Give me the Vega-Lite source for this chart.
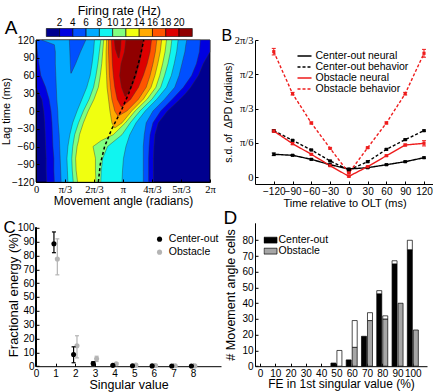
{
  "$schema": "https://vega.github.io/schema/vega-lite/v6.json",
  "background": "white",
  "padding": {"left": 0, "top": 5, "right": 0, "bottom": 0},
  "bounds": "flush",
  "columns": 2,
  "spacing": {"row": 38.8, "column": 34},
  "resolve": {
    "scale": {"color": "independent", "fill": "independent", "stroke": "independent", "strokeDash": "independent"},
    "legend": {"color": "independent", "fill": "independent", "stroke": "independent", "strokeDash": "independent"}
  },
  "datasets": {
    "contours": [
      {"poly": "b0", "level": 0, "lag": -120, "left": 0, "right": 360},
      {"poly": "b0", "level": 0, "lag": 120, "left": 0, "right": 360},

      {"poly": "b1", "level": 2, "lag": -120, "left": 22, "right": 243},
      {"poly": "b1", "level": 2, "lag": -100, "left": 21, "right": 243},
      {"poly": "b1", "level": 2, "lag": -80, "left": 21, "right": 243},
      {"poly": "b1", "level": 2, "lag": -60, "left": 20, "right": 244},
      {"poly": "b1", "level": 2, "lag": -40, "left": 19, "right": 246},
      {"poly": "b1", "level": 2, "lag": -20, "left": 18, "right": 253},
      {"poly": "b1", "level": 2, "lag": 0, "left": 16, "right": 272},
      {"poly": "b1", "level": 2, "lag": 20, "left": 12, "right": 298},
      {"poly": "b1", "level": 2, "lag": 30, "left": 6, "right": 310},
      {"poly": "b1", "level": 2, "lag": 40, "left": 0, "right": 320},
      {"poly": "b1", "level": 2, "lag": 60, "left": 0, "right": 336},
      {"poly": "b1", "level": 2, "lag": 80, "left": 0, "right": 346},
      {"poly": "b1", "level": 2, "lag": 100, "left": 0, "right": 360},
      {"poly": "b1", "level": 2, "lag": 120, "left": 0, "right": 360},

      {"poly": "b2", "level": 4, "lag": -120, "left": 38, "right": 233},
      {"poly": "b2", "level": 4, "lag": -100, "left": 37, "right": 233},
      {"poly": "b2", "level": 4, "lag": -80, "left": 37, "right": 233},
      {"poly": "b2", "level": 4, "lag": -60, "left": 35, "right": 234},
      {"poly": "b2", "level": 4, "lag": -40, "left": 34, "right": 236},
      {"poly": "b2", "level": 4, "lag": -20, "left": 33, "right": 242},
      {"poly": "b2", "level": 4, "lag": 0, "left": 31, "right": 258},
      {"poly": "b2", "level": 4, "lag": 20, "left": 27, "right": 282},
      {"poly": "b2", "level": 4, "lag": 40, "left": 20, "right": 305},
      {"poly": "b2", "level": 4, "lag": 60, "left": 10, "right": 322},
      {"poly": "b2", "level": 4, "lag": 80, "left": 6, "right": 332},
      {"poly": "b2", "level": 4, "lag": 100, "left": 3, "right": 338},
      {"poly": "b2", "level": 4, "lag": 120, "left": 0, "right": 340},

      {"poly": "b3", "level": 6, "lag": -120, "left": 52, "right": 222},
      {"poly": "b3", "level": 6, "lag": -100, "left": 51, "right": 222},
      {"poly": "b3", "level": 6, "lag": -80, "left": 50, "right": 222},
      {"poly": "b3", "level": 6, "lag": -60, "left": 49, "right": 222},
      {"poly": "b3", "level": 6, "lag": -40, "left": 48, "right": 224},
      {"poly": "b3", "level": 6, "lag": -20, "left": 46, "right": 228},
      {"poly": "b3", "level": 6, "lag": 0, "left": 45, "right": 242},
      {"poly": "b3", "level": 6, "lag": 20, "left": 43, "right": 266},
      {"poly": "b3", "level": 6, "lag": 40, "left": 42, "right": 287},
      {"poly": "b3", "level": 6, "lag": 60, "left": 41, "right": 296},
      {"poly": "b3", "level": 6, "lag": 80, "left": 40, "right": 302},
      {"poly": "b3", "level": 6, "lag": 100, "left": 40, "right": 308},
      {"poly": "b3", "level": 6, "lag": 112, "left": 38, "right": 310},
      {"poly": "b3", "level": 6, "lag": 120, "left": 12, "right": 312},

      {"poly": "notch", "level": 4, "lag": 64, "left": 72, "right": 73},
      {"poly": "notch", "level": 4, "lag": 80, "left": 71, "right": 82},
      {"poly": "notch", "level": 4, "lag": 100, "left": 70, "right": 92},
      {"poly": "notch", "level": 4, "lag": 120, "left": 69, "right": 103},

      {"poly": "b4", "level": 8, "lag": -120, "left": 66, "right": 178},
      {"poly": "b4", "level": 8, "lag": -100, "left": 65, "right": 179},
      {"poly": "b4", "level": 8, "lag": -80, "left": 64, "right": 181},
      {"poly": "b4", "level": 8, "lag": -60, "left": 66, "right": 186},
      {"poly": "b4", "level": 8, "lag": -40, "left": 70, "right": 194},
      {"poly": "b4", "level": 8, "lag": -20, "left": 76, "right": 207},
      {"poly": "b4", "level": 8, "lag": 0, "left": 85, "right": 226},
      {"poly": "b4", "level": 8, "lag": 20, "left": 95, "right": 250},
      {"poly": "b4", "level": 8, "lag": 40, "left": 105, "right": 270},
      {"poly": "b4", "level": 8, "lag": 60, "left": 112, "right": 280},
      {"poly": "b4", "level": 8, "lag": 80, "left": 116, "right": 286},
      {"poly": "b4", "level": 8, "lag": 100, "left": 119, "right": 291},
      {"poly": "b4", "level": 8, "lag": 120, "left": 121, "right": 294},

      {"poly": "b5", "level": 10, "lag": -120, "left": 77, "right": 134},
      {"poly": "b5", "level": 10, "lag": -100, "left": 75, "right": 135},
      {"poly": "b5", "level": 10, "lag": -80, "left": 74, "right": 138},
      {"poly": "b5", "level": 10, "lag": -60, "left": 76, "right": 148},
      {"poly": "b5", "level": 10, "lag": -40, "left": 80, "right": 178},
      {"poly": "b5", "level": 10, "lag": -20, "left": 88, "right": 195},
      {"poly": "b5", "level": 10, "lag": 0, "left": 98, "right": 215},
      {"poly": "b5", "level": 10, "lag": 20, "left": 110, "right": 240},
      {"poly": "b5", "level": 10, "lag": 40, "left": 119, "right": 258},
      {"poly": "b5", "level": 10, "lag": 60, "left": 124, "right": 266},
      {"poly": "b5", "level": 10, "lag": 80, "left": 128, "right": 273},
      {"poly": "b5", "level": 10, "lag": 100, "left": 131, "right": 278},
      {"poly": "b5", "level": 10, "lag": 120, "left": 134, "right": 281},

      {"poly": "b6", "level": 12, "lag": -120, "left": 86, "right": 124},
      {"poly": "b6", "level": 12, "lag": -100, "left": 83, "right": 123},
      {"poly": "b6", "level": 12, "lag": -80, "left": 82, "right": 123},
      {"poly": "b6", "level": 12, "lag": -60, "left": 85, "right": 118},
      {"poly": "b6", "level": 12, "lag": -50, "left": 88, "right": 135},
      {"poly": "b6", "level": 12, "lag": -40, "left": 90, "right": 160},
      {"poly": "b6", "level": 12, "lag": -20, "left": 98, "right": 185},
      {"poly": "b6", "level": 12, "lag": 0, "left": 108, "right": 205},
      {"poly": "b6", "level": 12, "lag": 20, "left": 120, "right": 230},
      {"poly": "b6", "level": 12, "lag": 40, "left": 129, "right": 248},
      {"poly": "b6", "level": 12, "lag": 60, "left": 133, "right": 256},
      {"poly": "b6", "level": 12, "lag": 80, "left": 136, "right": 262},
      {"poly": "b6", "level": 12, "lag": 100, "left": 138, "right": 267},
      {"poly": "b6", "level": 12, "lag": 120, "left": 140, "right": 270},

      {"poly": "b7", "level": 14, "lag": -28, "left": 162, "right": 164},
      {"poly": "b7", "level": 14, "lag": -20, "left": 157, "right": 178},
      {"poly": "b7", "level": 14, "lag": 0, "left": 153, "right": 198},
      {"poly": "b7", "level": 14, "lag": 20, "left": 150, "right": 222},
      {"poly": "b7", "level": 14, "lag": 40, "left": 147, "right": 238},
      {"poly": "b7", "level": 14, "lag": 60, "left": 146, "right": 246},
      {"poly": "b7", "level": 14, "lag": 80, "left": 145, "right": 252},
      {"poly": "b7", "level": 14, "lag": 100, "left": 145, "right": 257},
      {"poly": "b7", "level": 14, "lag": 120, "left": 146, "right": 260},

      {"poly": "b8", "level": 16, "lag": -8, "left": 169, "right": 171},
      {"poly": "b8", "level": 16, "lag": 0, "left": 163, "right": 188},
      {"poly": "b8", "level": 16, "lag": 20, "left": 157, "right": 212},
      {"poly": "b8", "level": 16, "lag": 40, "left": 154, "right": 228},
      {"poly": "b8", "level": 16, "lag": 60, "left": 152, "right": 236},
      {"poly": "b8", "level": 16, "lag": 80, "left": 151, "right": 242},
      {"poly": "b8", "level": 16, "lag": 100, "left": 150, "right": 247},
      {"poly": "b8", "level": 16, "lag": 120, "left": 150, "right": 250},

      {"poly": "b9", "level": 18, "lag": 7, "left": 176, "right": 178},
      {"poly": "b9", "level": 18, "lag": 20, "left": 168, "right": 196},
      {"poly": "b9", "level": 18, "lag": 40, "left": 163, "right": 212},
      {"poly": "b9", "level": 18, "lag": 60, "left": 160, "right": 222},
      {"poly": "b9", "level": 18, "lag": 80, "left": 158, "right": 230},
      {"poly": "b9", "level": 18, "lag": 100, "left": 157, "right": 236},
      {"poly": "b9", "level": 18, "lag": 120, "left": 156, "right": 239},

      {"poly": "b10a", "level": 20, "lag": 25, "left": 184, "right": 186},
      {"poly": "b10a", "level": 20, "lag": 40, "left": 177, "right": 198},
      {"poly": "b10a", "level": 20, "lag": 60, "left": 173, "right": 207},
      {"poly": "b10a", "level": 20, "lag": 80, "left": 176, "right": 214},
      {"poly": "b10a", "level": 20, "lag": 100, "left": 183, "right": 219},
      {"poly": "b10a", "level": 20, "lag": 120, "left": 186, "right": 222},
      {"poly": "b10b", "level": 20, "lag": 90, "left": 170, "right": 172},
      {"poly": "b10b", "level": 20, "lag": 105, "left": 164, "right": 175},
      {"poly": "b10b", "level": 20, "lag": 120, "left": 162, "right": 176}
    ],
    "behavior": [
      {"lag": -120, "angle": 129},
      {"lag": -90, "angle": 133},
      {"lag": -60, "angle": 142},
      {"lag": -30, "angle": 157},
      {"lag": 0, "angle": 176},
      {"lag": 30, "angle": 192},
      {"lag": 60, "angle": 205},
      {"lag": 90, "angle": 215},
      {"lag": 120, "angle": 223}
    ],
    "pd": [
      {"t": -120, "curve": "Center-out neural", "sd": 0.347, "lo": 0.327, "hi": 0.367},
      {"t": -90, "curve": "Center-out neural", "sd": 0.332, "lo": 0.322, "hi": 0.342},
      {"t": -60, "curve": "Center-out neural", "sd": 0.27, "lo": 0.26, "hi": 0.28},
      {"t": -30, "curve": "Center-out neural", "sd": 0.188, "lo": 0.178, "hi": 0.198},
      {"t": 0, "curve": "Center-out neural", "sd": 0.122, "lo": 0.112, "hi": 0.132},
      {"t": 30, "curve": "Center-out neural", "sd": 0.142, "lo": 0.132, "hi": 0.152},
      {"t": 60, "curve": "Center-out neural", "sd": 0.188, "lo": 0.178, "hi": 0.198},
      {"t": 90, "curve": "Center-out neural", "sd": 0.234, "lo": 0.224, "hi": 0.244},
      {"t": 120, "curve": "Center-out neural", "sd": 0.295, "lo": 0.285, "hi": 0.305},
      {"t": -120, "curve": "Center-out behavior", "sd": 0.708, "lo": 0.698, "hi": 0.718},
      {"t": -90, "curve": "Center-out behavior", "sd": 0.561, "lo": 0.551, "hi": 0.571},
      {"t": -60, "curve": "Center-out behavior", "sd": 0.413, "lo": 0.403, "hi": 0.423},
      {"t": -30, "curve": "Center-out behavior", "sd": 0.245, "lo": 0.235, "hi": 0.255},
      {"t": 0, "curve": "Center-out behavior", "sd": 0.107, "lo": 0.097, "hi": 0.117},
      {"t": 30, "curve": "Center-out behavior", "sd": 0.234, "lo": 0.224, "hi": 0.244},
      {"t": 60, "curve": "Center-out behavior", "sd": 0.423, "lo": 0.413, "hi": 0.433},
      {"t": 90, "curve": "Center-out behavior", "sd": 0.571, "lo": 0.561, "hi": 0.581},
      {"t": 120, "curve": "Center-out behavior", "sd": 0.708, "lo": 0.698, "hi": 0.718},
      {"t": -120, "curve": "Obstacle neural", "sd": 0.703, "lo": 0.683, "hi": 0.723},
      {"t": -90, "curve": "Obstacle neural", "sd": 0.51, "lo": 0.495, "hi": 0.525},
      {"t": -60, "curve": "Obstacle neural", "sd": 0.347, "lo": 0.337, "hi": 0.357},
      {"t": -30, "curve": "Obstacle neural", "sd": 0.173, "lo": 0.163, "hi": 0.183},
      {"t": 0, "curve": "Obstacle neural", "sd": 0.01, "lo": 0.0, "hi": 0.02},
      {"t": 30, "curve": "Obstacle neural", "sd": 0.158, "lo": 0.148, "hi": 0.168},
      {"t": 60, "curve": "Obstacle neural", "sd": 0.326, "lo": 0.316, "hi": 0.336},
      {"t": 90, "curve": "Obstacle neural", "sd": 0.489, "lo": 0.474, "hi": 0.504},
      {"t": 120, "curve": "Obstacle neural", "sd": 0.515, "lo": 0.475, "hi": 0.555},
      {"t": -120, "curve": "Obstacle behavior", "sd": 1.916, "lo": 1.866, "hi": 1.966},
      {"t": -90, "curve": "Obstacle behavior", "sd": 1.274, "lo": 1.254, "hi": 1.294},
      {"t": -60, "curve": "Obstacle behavior", "sd": 0.826, "lo": 0.811, "hi": 0.841},
      {"t": -30, "curve": "Obstacle behavior", "sd": 0.438, "lo": 0.428, "hi": 0.448},
      {"t": 0, "curve": "Obstacle behavior", "sd": 0.06, "lo": 0.05, "hi": 0.07},
      {"t": 30, "curve": "Obstacle behavior", "sd": 0.448, "lo": 0.438, "hi": 0.458},
      {"t": 60, "curve": "Obstacle behavior", "sd": 0.826, "lo": 0.811, "hi": 0.841},
      {"t": 90, "curve": "Obstacle behavior", "sd": 1.274, "lo": 1.254, "hi": 1.294},
      {"t": 120, "curve": "Obstacle behavior", "sd": 1.891, "lo": 1.831, "hi": 1.951}
    ],
    "fe": [
      {"sv": 1, "task": "Center-out", "fe": 88.5, "lo": 82, "hi": 97},
      {"sv": 2, "task": "Center-out", "fe": 8.5, "lo": 2.5, "hi": 14},
      {"sv": 3, "task": "Center-out", "fe": 2, "lo": 0.8, "hi": 3.2},
      {"sv": 4, "task": "Center-out", "fe": 0.6, "lo": 0.2, "hi": 1},
      {"sv": 5, "task": "Center-out", "fe": 0.3, "lo": 0.1, "hi": 0.5},
      {"sv": 6, "task": "Center-out", "fe": 0.2, "lo": 0.1, "hi": 0.3},
      {"sv": 7, "task": "Center-out", "fe": 0.1, "lo": 0, "hi": 0.2},
      {"sv": 8, "task": "Center-out", "fe": 0.1, "lo": 0, "hi": 0.2},
      {"sv": 1, "task": "Obstacle", "fe": 77.5, "lo": 66, "hi": 92},
      {"sv": 2, "task": "Obstacle", "fe": 14.8, "lo": 6, "hi": 22},
      {"sv": 3, "task": "Obstacle", "fe": 5.3, "lo": 3.4, "hi": 7.2},
      {"sv": 4, "task": "Obstacle", "fe": 1.8, "lo": 1, "hi": 2.6},
      {"sv": 5, "task": "Obstacle", "fe": 0.8, "lo": 0.3, "hi": 1.3},
      {"sv": 6, "task": "Obstacle", "fe": 0.5, "lo": 0.2, "hi": 0.8},
      {"sv": 7, "task": "Obstacle", "fe": 0.3, "lo": 0.1, "hi": 0.5},
      {"sv": 8, "task": "Obstacle", "fe": 0.2, "lo": 0, "hi": 0.4}
    ],
    "cells": [
      {"fe": 50, "group": "Center-out", "kind": "Center-out", "count": 2},
      {"fe": 50, "group": "Obstacle", "kind": "other", "count": 10},
      {"fe": 60, "group": "Center-out", "kind": "Center-out", "count": 4},
      {"fe": 60, "group": "Obstacle", "kind": "Obstacle", "count": 12},
      {"fe": 60, "group": "Obstacle", "kind": "other", "count": 17},
      {"fe": 70, "group": "Center-out", "kind": "Center-out", "count": 19},
      {"fe": 70, "group": "Obstacle", "kind": "Obstacle", "count": 29},
      {"fe": 70, "group": "Obstacle", "kind": "other", "count": 5},
      {"fe": 80, "group": "Center-out", "kind": "Center-out", "count": 46},
      {"fe": 80, "group": "Center-out", "kind": "other", "count": 2},
      {"fe": 80, "group": "Obstacle", "kind": "Obstacle", "count": 30},
      {"fe": 80, "group": "Obstacle", "kind": "other", "count": 2},
      {"fe": 90, "group": "Center-out", "kind": "Center-out", "count": 65},
      {"fe": 90, "group": "Center-out", "kind": "other", "count": 2},
      {"fe": 90, "group": "Obstacle", "kind": "Obstacle", "count": 40},
      {"fe": 100, "group": "Center-out", "kind": "Center-out", "count": 74},
      {"fe": 100, "group": "Center-out", "kind": "other", "count": 6},
      {"fe": 100, "group": "Obstacle", "kind": "Obstacle", "count": 23}
    ]
  },
  "concat": [
    {
      "width": 174,
      "height": 142,
      "title": {"text": "A", "fontSize": 19, "dx": -31.3, "dy": 37},
      "layer": [
        {
          "data": {"name": "contours"},
          "encoding": {
            "y": {"field": "lag", "type": "quantitative", "scale": {"domain": [-120, 120], "nice": false, "zero": false},
                  "axis": {"values": [-120, -90, -60, -30, 0, 30, 60, 90, 120], "labelOverlap": false, "title": "Lag time (ms)", "titleFontSize": 11, "titlePadding": 0, "zindex": 1}},
            "x": {"field": "left", "type": "quantitative", "stack": null, "scale": {"domain": [0, 360], "nice": false, "zero": false},
                  "axis": {"values": [0, 60, 120, 180, 240, 300, 360], "labelOverlap": false, "title": "Movement angle (radians)", "titleFontSize": 12, "titlePadding": 1, "zindex": 1, "labelFont": "Liberation Serif", "labelFontSize": 10.5,
                           "labelExpr": "datum.value === 0 ? '0' : datum.value === 60 ? 'π/3' : datum.value === 120 ? '2π/3' : datum.value === 180 ? 'π' : datum.value === 240 ? '4π/3' : datum.value === 300 ? '5π/3' : '2π'"}},
            "x2": {"field": "right"},
            "detail": {"field": "poly", "type": "nominal"},
            "color": {
              "field": "level", "type": "quantitative",
              "scale": {"type": "threshold", "domain": [2, 4, 6, 8, 10, 12, 14, 16, 18, 20],
                        "range": ["#00008f", "#0000e0", "#0050ff", "#00aaff", "#10f5f0", "#80ff80", "#f0ff10", "#ffaa00", "#ff5500", "#dd0000", "#900000"]},
              "legend": {"type": "gradient", "orient": "none", "legendX": 10.3, "legendY": -35, "direction": "horizontal",
                         "gradientLength": 146, "gradientThickness": 8, "gradientStrokeColor": "#000", "gradientStrokeWidth": 0.6,
                         "title": "Firing rate (Hz)", "titleFontSize": 12.5, "titleAnchor": "middle", "titlePadding": 11,
                         "labelOffset": -19, "labelFontSize": 10, "labelOverlap": false}
            }
          },
          "layer": [
            {"transform": [{"filter": "datum.poly === 'b0'"}], "mark": {"type": "area", "orient": "horizontal", "stroke": "#000", "strokeWidth": 0.8}},
            {"transform": [{"filter": "datum.poly === 'b1'"}], "mark": {"type": "area", "orient": "horizontal", "stroke": "#333", "strokeWidth": 0.4}},
            {"transform": [{"filter": "datum.poly === 'b2'"}], "mark": {"type": "area", "orient": "horizontal", "stroke": "#333", "strokeWidth": 0.4}},
            {"transform": [{"filter": "datum.poly === 'b3'"}], "mark": {"type": "area", "orient": "horizontal", "stroke": "#333", "strokeWidth": 0.4}},
            {"transform": [{"filter": "datum.poly === 'notch'"}], "mark": {"type": "area", "orient": "horizontal", "stroke": "#333", "strokeWidth": 0.4}},
            {"transform": [{"filter": "datum.poly === 'b4'"}], "mark": {"type": "area", "orient": "horizontal", "stroke": "#333", "strokeWidth": 0.4}},
            {"transform": [{"filter": "datum.poly === 'b5'"}], "mark": {"type": "area", "orient": "horizontal", "stroke": "#333", "strokeWidth": 0.4}},
            {"transform": [{"filter": "datum.poly === 'b6'"}], "mark": {"type": "area", "orient": "horizontal", "stroke": "#333", "strokeWidth": 0.4}},
            {"transform": [{"filter": "datum.poly === 'b7'"}], "mark": {"type": "area", "orient": "horizontal", "stroke": "#333", "strokeWidth": 0.4}},
            {"transform": [{"filter": "datum.poly === 'b8'"}], "mark": {"type": "area", "orient": "horizontal", "stroke": "#333", "strokeWidth": 0.4}},
            {"transform": [{"filter": "datum.poly === 'b9'"}], "mark": {"type": "area", "orient": "horizontal", "stroke": "#333", "strokeWidth": 0.4}},
            {"transform": [{"filter": "datum.level === 20"}], "mark": {"type": "area", "orient": "horizontal", "stroke": "#333", "strokeWidth": 0.4}}
          ]
        },
        {
          "data": {"name": "behavior"},
          "mark": {"type": "line", "color": "#000", "strokeWidth": 1.5, "strokeDash": [3, 2.5]},
          "encoding": {
            "x": {"field": "angle", "type": "quantitative",
                  "axis": {"values": [0, 60, 120, 180, 240, 300, 360], "labelOverlap": false, "title": "Movement angle (radians)", "titleFontSize": 12, "titlePadding": 1, "zindex": 1, "labelFont": "Liberation Serif", "labelFontSize": 10.5,
                           "labelExpr": "datum.value === 0 ? '0' : datum.value === 60 ? 'π/3' : datum.value === 120 ? '2π/3' : datum.value === 180 ? 'π' : datum.value === 240 ? '4π/3' : datum.value === 300 ? '5π/3' : '2π'"}},
            "y": {"field": "lag", "type": "quantitative",
                  "axis": {"values": [-120, -90, -60, -30, 0, 30, 60, 90, 120], "labelOverlap": false, "title": "Lag time (ms)", "titleFontSize": 11, "titlePadding": 0, "zindex": 1}},
            "order": {"field": "lag", "type": "quantitative"}
          }
        }
      ]
    },
    {
      "width": 179,
      "height": 144,
      "title": {"text": "B", "fontSize": 16, "dx": -33.5, "dy": 13},
      "data": {"name": "pd"},
      "encoding": {
        "x": {"field": "t", "type": "quantitative", "scale": {"domain": [-150, 136], "nice": false, "zero": false},
              "axis": {"values": [-120, -90, -60, -30, 0, 30, 60, 90, 120], "title": "Time relative to OLT (ms)", "titleFontSize": 11, "titlePadding": 1}},
        "y": {"field": "sd", "type": "quantitative", "scale": {"domain": [-0.107, 2.0944], "nice": false, "zero": false},
              "axis": {"values": [0, 0.5235987756, 1.0471975512, 1.5707963268, 2.0943951024], "labelFont": "Liberation Serif", "labelFontSize": 10.5,
                       "labelExpr": "datum.value < 0.1 ? '0' : datum.value < 0.6 ? 'π/6' : datum.value < 1.1 ? 'π/3' : datum.value < 1.6 ? 'π/2' : '2π/3'",
                       "title": "s.d. of \u00a0ΔPD (radians)", "titleFontSize": 10.5, "titlePadding": 1}}
      },
      "layer": [
        {
          "mark": {"type": "line", "strokeWidth": 1.4},
          "encoding": {
            "order": {"field": "t", "type": "quantitative"},
            "color": {"field": "curve", "type": "nominal",
                      "scale": {"domain": ["Center-out neural", "Center-out behavior", "Obstacle neural", "Obstacle behavior"], "range": ["#000000", "#000000", "#ee1c1c", "#ee1c1c"]},
                      "legend": {"orient": "none", "legendX": 41.5, "legendY": 10.5, "title": null, "symbolType": "stroke", "symbolSize": 196, "symbolStrokeWidth": 1.5, "labelOffset": 3, "clipHeight": 10.8, "rowPadding": 0, "labelFontSize": 10.5}},
            "strokeDash": {"field": "curve", "type": "nominal",
                           "scale": {"domain": ["Center-out neural", "Center-out behavior", "Obstacle neural", "Obstacle behavior"], "range": [[1, 0], [3, 2], [1, 0], [3, 2]]},
                           "legend": {"orient": "none", "legendX": 41.5, "legendY": 10.5, "title": null, "symbolType": "stroke", "symbolSize": 196, "symbolStrokeWidth": 1.5, "labelOffset": 3, "clipHeight": 10.8, "rowPadding": 0, "labelFontSize": 10.5}}
          }
        },
        {
          "mark": {"type": "rule", "strokeWidth": 1},
          "encoding": {
            "y": {"field": "lo", "type": "quantitative"}, "y2": {"field": "hi"},
            "stroke": {"field": "curve", "type": "nominal", "scale": {"domain": ["Center-out neural", "Center-out behavior", "Obstacle neural", "Obstacle behavior"], "range": ["#000000", "#000000", "#ee1c1c", "#ee1c1c"]}, "legend": null}
          }
        },
        {
          "mark": {"type": "point", "shape": "stroke", "size": 16, "strokeWidth": 1, "opacity": 1},
          "encoding": {
            "y": {"field": "lo", "type": "quantitative"},
            "stroke": {"field": "curve", "type": "nominal", "scale": {"domain": ["Center-out neural", "Center-out behavior", "Obstacle neural", "Obstacle behavior"], "range": ["#000000", "#000000", "#ee1c1c", "#ee1c1c"]}, "legend": null}
          }
        },
        {
          "mark": {"type": "point", "shape": "stroke", "size": 16, "strokeWidth": 1, "opacity": 1},
          "encoding": {
            "y": {"field": "hi", "type": "quantitative"},
            "stroke": {"field": "curve", "type": "nominal", "scale": {"domain": ["Center-out neural", "Center-out behavior", "Obstacle neural", "Obstacle behavior"], "range": ["#000000", "#000000", "#ee1c1c", "#ee1c1c"]}, "legend": null}
          }
        },
        {
          "mark": {"type": "point", "shape": "square", "filled": true, "size": 10, "opacity": 1},
          "encoding": {
            "fill": {"field": "curve", "type": "nominal", "scale": {"domain": ["Center-out neural", "Center-out behavior", "Obstacle neural", "Obstacle behavior"], "range": ["#000000", "#000000", "#ee1c1c", "#ee1c1c"]}, "legend": null}
          }
        }
      ]
    },
    {
      "width": 185,
      "height": 143.4,
      "title": {"text": "C", "fontSize": 17, "dx": -32.5, "dy": 18},
      "data": {"name": "fe"},
      "encoding": {
        "x": {"field": "sv", "type": "quantitative", "scale": {"domain": [0, 9.42], "nice": false, "zero": false},
              "axis": {"values": [0, 1, 2, 3, 4, 5, 6, 7, 8], "title": "Singular value", "titleFontSize": 12.5, "titlePadding": 0.5}},
        "y": {"field": "fe", "type": "quantitative", "scale": {"domain": [0, 103.6], "nice": false},
              "axis": {"values": [0, 10, 20, 30, 40, 50, 60, 70, 80, 90, 100], "domain": false, "title": "Fractional energy (%)", "titleFontSize": 13, "titlePadding": -3}}
      },
      "layer": [
        {
          "mark": {"type": "rule", "color": "#000", "strokeWidth": 1},
          "encoding": {"x": {"datum": 0}, "y": {"datum": 0}, "y2": {"datum": 100}}
        },
        {
          "transform": [{"filter": "datum.task === 'Obstacle'"}],
          "layer": [
            {"mark": {"type": "rule", "color": "#b4b4b4", "strokeWidth": 1.2, "xOffset": 1.7}, "encoding": {"y": {"field": "lo", "type": "quantitative"}, "y2": {"field": "hi"}}},
            {"mark": {"type": "point", "shape": "stroke", "color": "#b4b4b4", "size": 16, "strokeWidth": 1.2, "opacity": 1, "xOffset": 1.7}, "encoding": {"y": {"field": "lo", "type": "quantitative"}}},
            {"mark": {"type": "point", "shape": "stroke", "color": "#b4b4b4", "size": 16, "strokeWidth": 1.2, "opacity": 1, "xOffset": 1.7}, "encoding": {"y": {"field": "hi", "type": "quantitative"}}},
            {"mark": {"type": "point", "shape": "circle", "filled": true, "size": 26, "opacity": 1, "xOffset": 1.7},
             "encoding": {"color": {"field": "task", "type": "nominal", "scale": {"domain": ["Center-out", "Obstacle"], "range": ["#000000", "#b4b4b4"]},
               "legend": {"orient": "none", "legendX": 118.3, "legendY": 10, "title": null, "symbolType": "circle", "symbolSize": 26, "labelOffset": 4, "clipHeight": 12.7, "rowPadding": 0, "labelFontSize": 10.5}}}}
          ]
        },
        {
          "transform": [{"filter": "datum.task === 'Center-out'"}],
          "layer": [
            {"mark": {"type": "rule", "color": "#000", "strokeWidth": 1.2, "xOffset": -1.7}, "encoding": {"y": {"field": "lo", "type": "quantitative"}, "y2": {"field": "hi"}}},
            {"mark": {"type": "point", "shape": "stroke", "color": "#000", "size": 16, "strokeWidth": 1.2, "opacity": 1, "xOffset": -1.7}, "encoding": {"y": {"field": "lo", "type": "quantitative"}}},
            {"mark": {"type": "point", "shape": "stroke", "color": "#000", "size": 16, "strokeWidth": 1.2, "opacity": 1, "xOffset": -1.7}, "encoding": {"y": {"field": "hi", "type": "quantitative"}}},
            {"mark": {"type": "point", "shape": "circle", "filled": true, "size": 26, "opacity": 1, "xOffset": -1.7},
             "encoding": {"color": {"field": "task", "type": "nominal", "scale": {"domain": ["Center-out", "Obstacle"], "range": ["#000000", "#b4b4b4"]},
               "legend": {"orient": "none", "legendX": 118.3, "legendY": 10, "title": null, "symbolType": "circle", "symbolSize": 26, "labelOffset": 4, "clipHeight": 12.7, "rowPadding": 0, "labelFontSize": 10.5}}}}
          ]
        }
      ]
    },
    {
      "width": 172,
      "height": 143.4,
      "title": {"text": "D", "fontSize": 19, "dx": -31.5, "dy": 9},
      "data": {"name": "cells"},
      "encoding": {
        "x": {"field": "fe", "type": "quantitative", "scale": {"domain": [0, 106], "nice": false, "zero": false},
              "axis": {"values": [0, 10, 20, 30, 40, 50, 60, 70, 80, 90, 100], "title": "FE in 1st singular value (%)", "titleFontSize": 12, "titlePadding": 0.5}},
        "y": {"field": "count", "type": "quantitative", "stack": "zero", "scale": {"domain": [0, 91.1], "nice": false},
              "axis": {"values": [0, 10, 20, 30, 40, 50, 60, 70, 80], "title": "# Movement angle cells", "titleFontSize": 12.5, "titlePadding": 4}},
        "fill": {"field": "kind", "type": "nominal",
                 "scale": {"domain": ["Center-out", "Obstacle", "other"], "range": ["#000000", "#a6a6a6", "#ffffff"]},
                 "legend": {"orient": "none", "legendX": 8.5, "legendY": 12.2, "title": null, "values": ["Center-out", "Obstacle"],
                            "symbolType": "M-1,-0.45H1V0.45H-1Z", "symbolSize": 169, "symbolStrokeColor": "#000", "symbolStrokeWidth": 0.7,
                            "labelOffset": 1, "clipHeight": 10.3, "rowPadding": 0, "labelFontSize": 10.5}},
        "order": {"field": "kind", "sort": "ascending"}
      },
      "layer": [
        {"transform": [{"filter": "datum.group === 'Center-out'"}], "mark": {"type": "bar", "width": 5, "xOffset": -3, "stroke": "#000", "strokeWidth": 0.7}},
        {"transform": [{"filter": "datum.group === 'Obstacle'"}], "mark": {"type": "bar", "width": 5, "xOffset": 3, "stroke": "#000", "strokeWidth": 0.7}}
      ]
    }
  ],
  "config": {
    "font": "Liberation Sans",
    "view": {"stroke": null},
    "axis": {
      "grid": false, "domainColor": "#000", "domainWidth": 1, "tickColor": "#000", "tickWidth": 1, "tickSize": -3,
      "labelPadding": 5, "labelColor": "#000", "labelFontSize": 10, "labelFont": "Liberation Sans", "labelOverlap": false, "labelFlush": false, "labelBound": false,
      "titleFont": "Liberation Sans", "titleFontSize": 12.5, "titleFontWeight": "normal", "titleColor": "#000", "titlePadding": 3
    },
    "legend": {"labelFont": "Liberation Sans", "labelFontSize": 10.5, "labelColor": "#000", "padding": 0, "rowPadding": 0,
               "titleFont": "Liberation Sans", "titleFontWeight": "normal", "titleColor": "#000"},
    "title": {"font": "Liberation Sans", "fontWeight": "normal", "color": "#000", "anchor": "start", "frame": "group", "offset": 0}
  }
}
